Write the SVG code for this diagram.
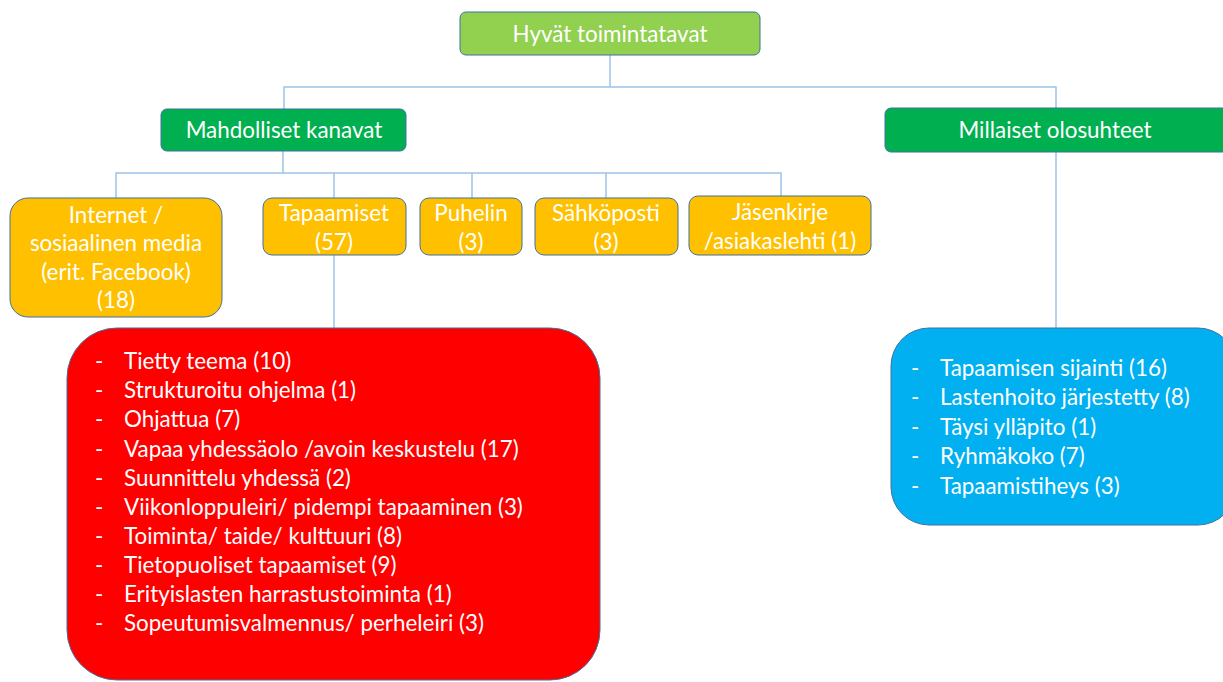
<svg xmlns="http://www.w3.org/2000/svg" width="1223" height="682" viewBox="0 0 1223 682">
<style>
text{font-family:Lato,"Liberation Sans",sans-serif;font-size:22.4px;fill:#ffffff}
.c{text-anchor:middle}
.box{stroke:#41719c;stroke-width:1}
.lime{fill:#92d050}
.green{fill:#00b050}
.orange{fill:#ffc000}
.red{fill:#ff0000}
.blue{fill:#00b0f0}
.con{fill:none;stroke:#9dc3e6;stroke-width:1.5}
</style>
<rect width="1223" height="682" fill="#ffffff"/>
<g id="connectors">
<path class="con" d="M610,55 V87 M284,109 V87 H1056 V109"/>
<path class="con" d="M283,151 V173 M116,198 V173 H781 V196 M334,173 V198 M472,173 V198 M606,173 V198"/>
<path class="con" d="M334,255 V328"/>
<path class="con" d="M1056,152 V328"/>
</g>
<g id="n-hyvat">
<rect class="box lime" x="460" y="12" width="300" height="43" rx="6"/>
<text class="c" x="610" y="42">Hyvät toimintatavat</text>
</g>
<g id="n-mahdolliset">
<rect class="box green" x="161" y="109" width="245" height="42" rx="6"/>
<text class="c" x="284" y="138">Mahdolliset kanavat</text>
</g>
<g id="n-millaiset">
<rect class="box green" x="885" y="108" width="345" height="44" rx="6"/>
<text class="c" x="1055" y="138">Millaiset olosuhteet</text>
</g>
<g id="n-internet">
<rect class="box orange" x="10" y="198" width="212" height="119" rx="18"/>
<text class="c" x="116" y="223">Internet /</text>
<text class="c" x="116" y="251">sosiaalinen media</text>
<text class="c" x="116" y="280">(erit. Facebook)</text>
<text class="c" x="116" y="308">(18)</text>
</g>
<g id="n-tapaamiset">
<rect class="box orange" x="263" y="198" width="143" height="57" rx="9"/>
<text class="c" x="334" y="221">Tapaamiset</text>
<text class="c" x="334" y="250">(57)</text>
</g>
<g id="n-puhelin">
<rect class="box orange" x="420" y="198" width="102" height="57" rx="9"/>
<text class="c" x="471" y="221">Puhelin</text>
<text class="c" x="471" y="250">(3)</text>
</g>
<g id="n-sahkoposti">
<rect class="box orange" x="535" y="198" width="143" height="57" rx="9"/>
<text class="c" x="606" y="221">Sähköposti</text>
<text class="c" x="606" y="250">(3)</text>
</g>
<g id="n-jasenkirje">
<rect class="box orange" x="689" y="196" width="182" height="59" rx="9"/>
<text class="c" x="780" y="220">Jäsenkirje</text>
<text class="c" x="780" y="249">/asiakaslehti (1)</text>
</g>
<g id="n-tapaamiset-list">
<rect class="box red" x="67" y="328" width="533" height="352" rx="50"/>
<g>
<text x="95" y="369">-</text><text x="124" y="369">Tietty teema (10)</text>
<text x="95" y="398">-</text><text x="124" y="398">Strukturoitu ohjelma (1)</text>
<text x="95" y="427">-</text><text x="124" y="427">Ohjattua (7)</text>
<text x="95" y="457">-</text><text x="124" y="457">Vapaa yhdessäolo /avoin keskustelu (17)</text>
<text x="95" y="486">-</text><text x="124" y="486">Suunnittelu yhdessä (2)</text>
<text x="95" y="515">-</text><text x="124" y="515">Viikonloppuleiri/ pidempi tapaaminen (3)</text>
<text x="95" y="544">-</text><text x="124" y="544">Toiminta/ taide/ kulttuuri (8)</text>
<text x="95" y="573">-</text><text x="124" y="573">Tietopuoliset tapaamiset (9)</text>
<text x="95" y="602">-</text><text x="124" y="602">Erityislasten harrastustoiminta (1)</text>
<text x="95" y="631">-</text><text x="124" y="631">Sopeutumisvalmennus/ perheleiri (3)</text>
</g>
</g>
<g id="n-olosuhteet-list">
<rect class="box blue" x="891" y="328" width="345" height="197" rx="38"/>
<text x="911" y="376">-</text><text x="940" y="376">Tapaamisen sijainti (16)</text>
<text x="911" y="405">-</text><text x="940" y="405">Lastenhoito järjestetty (8)</text>
<text x="911" y="435">-</text><text x="940" y="435">Täysi ylläpito (1)</text>
<text x="911" y="464">-</text><text x="940" y="464">Ryhmäkoko (7)</text>
<text x="911" y="494">-</text><text x="940" y="494">Tapaamistiheys (3)</text>
</g>
</svg>
